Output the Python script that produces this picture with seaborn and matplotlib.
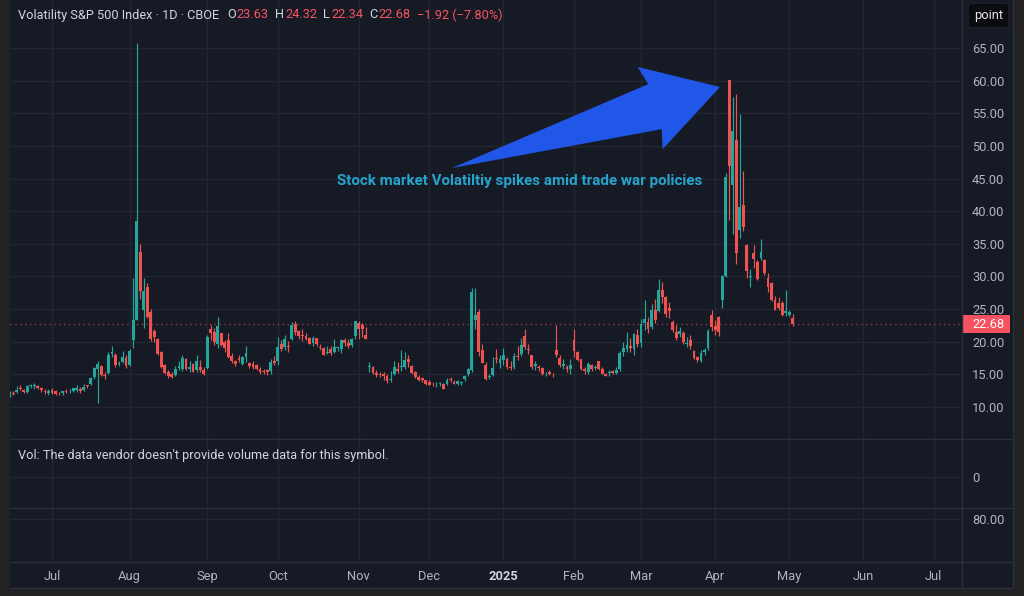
import numpy as np
import pandas as pd
import seaborn as sns
import matplotlib
matplotlib.use('Agg')
import matplotlib.pyplot as plt
from matplotlib.patches import Rectangle, Polygon
from matplotlib.lines import Line2D
from matplotlib.transforms import blended_transform_factory

# ---------------- data (VIX daily, 12 Jun 2024 - 2 May 2025) ----------------
holidays = ['2024-06-19', '2024-07-04', '2024-09-02', '2024-11-28', '2024-12-25',
            '2025-01-01', '2025-01-09', '2025-01-20', '2025-02-17', '2025-04-18',
            '2025-05-26', '2025-06-19', '2025-07-04']

opens = [
    12.0, 12.1, 12.3, 12.9, 12.6, 12.3, 13.2, 13.2, 13.2, 12.9, 12.5, 12.2,  # jun
    12.6, 12.4, 12.1, 12.2, 12.5, 12.4, 12.5, 12.6, 12.7, 12.6, 13.2, 13.5, 14.6, 15.9, 16.3, 14.8,
    15.2, 18.1, 18.0, 16.6, 16.9, 17.5,  # jul
    16.4, 20.3, 23.4, 33.7, 24.9, 28.4, 24.6, 21.6, 20.4, 18.5, 16.4, 15.4, 15.0, 14.9, 16.0, 15.9,
    17.4, 15.9, 16.6, 15.6, 16.2, 15.7,  # aug
    16.0, 21.9, 21.5, 19.6, 21.3, 19.9, 20.2, 17.8, 17.0, 17.5, 16.6, 17.6, 16.7, 16.6, 16.4, 15.9,
    15.5, 15.6, 15.5, 17.0,  # sep
    17.0, 19.6, 19.2, 19.4, 20.4, 22.7, 21.6, 21.0, 20.9, 20.5, 19.8, 20.5, 19.2, 19.0, 18.2, 18.9,
    18.4, 19.0, 18.9, 20.2, 19.8, 19.5, 20.9,  # oct
    22.9, 22.6, 21.0, 16.2, 16.2, 15.2, 15.1, 15.0, 14.7, 14.2, 15.1, 15.9, 16.1, 16.2, 17.3, 16.3,
    15.3, 14.6, 14.4, 14.1,  # nov
    13.8, 13.4, 13.3, 13.5, 13.5, 13.5, 14.2, 13.9, 13.6, 13.7, 14.3, 15.0, 15.6, 23.4, 24.6, 18.8,
    16.5, 14.6, 14.9, 17.5, 16.8,  # dec
    17.2, 17.4, 16.1, 16.2, 17.8, 18.1, 20.9, 18.9, 17.9, 16.3, 16.2, 16.0, 15.0, 15.3, 14.9, 18.8,
    17.5, 16.3, 16.2, 15.9,  # jan
    20.2, 18.4, 17.3, 15.8, 15.4, 16.5, 16.0, 17.0, 15.8, 15.1, 15.2, 15.5, 15.2, 15.8, 18.5, 18.9,
    19.4, 18.9, 21.0,  # feb
    19.8, 22.9, 23.0, 22.2, 24.8, 24.7, 28.0, 26.8, 25.2, 23.0, 21.5, 21.2, 21.4, 19.7, 20.3, 18.6,
    17.6, 17.1, 18.4, 19.0, 24.1,  # mar
    22.4, 23.8, 26.4, 30.0, 60.13, 44.0, 50.9, 37.1, 41.0, 34.8, 29.9, 33.6, 32.2, 32.9, 32.5, 29.8,
    29.0, 26.4, 25.9, 26.0, 24.4,  # apr
    24.1, 23.63,  # may
]
highs = [
    12.4, 12.5, 13.2, 13.3, 12.8, 13.3, 13.6, 13.7, 13.3, 13.0, 12.7, 12.7,
    12.9, 12.6, 12.3, 12.5, 12.8, 12.7, 12.9, 13.4, 13.0, 13.5, 13.4, 14.6, 16.2, 17.1, 16.5, 15.4,
    18.5, 19.4, 18.2, 17.1, 18.6, 17.9,
    18.9, 29.7, 65.73, 34.9, 29.8, 29.0, 25.0, 22.0, 20.6, 18.6, 16.6, 15.6, 15.4, 16.3, 17.0, 17.9,
    17.5, 17.0, 16.8, 17.9, 17.2, 16.2,
    21.0, 22.5, 22.1, 23.8, 21.4, 20.3, 21.4, 18.3, 17.2, 17.9, 17.8, 19.4, 16.9, 17.1, 16.6, 16.1,
    15.8, 15.9, 17.4, 17.8,
    20.7, 20.2, 21.0, 20.1, 23.0, 23.2, 21.8, 21.9, 21.4, 20.7, 20.9, 20.6, 19.6, 19.2, 19.3, 19.4,
    20.4, 19.4, 20.4, 20.5, 20.4, 20.5, 23.2,
    23.2, 22.8, 22.3, 16.9, 16.3, 15.6, 15.4, 15.3, 15.0, 15.5, 17.0, 16.9, 18.8, 18.4, 17.9, 16.4,
    15.5, 14.9, 14.6, 14.2,
    14.1, 13.9, 13.8, 13.8, 13.7, 14.4, 14.6, 14.1, 14.2, 14.0, 14.9, 16.0, 28.3, 28.3, 25.0, 19.6,
    16.9, 15.1, 17.6, 18.9, 17.9,
    19.1, 17.6, 17.0, 18.3, 19.4, 20.5, 22.0, 19.7, 18.0, 17.0, 16.5, 16.2, 15.4, 15.7, 15.2, 22.5,
    18.0, 17.4, 16.5, 17.3,
    22.0, 18.6, 17.4, 16.1, 16.9, 16.6, 16.5, 17.1, 16.1, 15.2, 15.6, 15.7, 16.1, 18.6, 19.9, 21.5,
    20.5, 21.4, 22.0,
    23.5, 26.4, 23.8, 25.8, 26.6, 29.6, 29.1, 27.0, 26.1, 23.3, 22.5, 22.2, 21.6, 20.8, 21.1, 18.7,
    17.8, 18.8, 19.1, 22.0, 24.9,
    23.4, 23.9, 30.3, 45.9, 60.13, 57.52, 57.96, 54.87, 46.1, 35.0, 31.1, 34.8, 32.5, 35.8, 32.7, 30.5,
    29.1, 27.0, 26.9, 26.2, 27.9,
    24.9, 24.32,
]
lows = [
    11.6, 11.9, 12.1, 12.6, 12.2, 12.2, 12.9, 12.8, 12.7, 12.3, 12.0, 11.8,
    12.0, 11.9, 11.9, 11.9, 12.2, 12.2, 12.3, 12.3, 12.2, 12.5, 12.9, 13.3, 14.3, 10.6, 14.7, 14.3,
    15.1, 17.6, 16.2, 16.3, 16.8, 16.0,
    16.3, 19.0, 23.4, 26.5, 22.1, 23.6, 20.1, 19.9, 17.9, 16.0, 15.0, 14.5, 14.5, 14.8, 15.6, 15.5,
    15.6, 15.4, 15.3, 15.3, 15.3, 14.9,
    15.9, 20.3, 19.5, 19.0, 19.3, 18.5, 17.5, 16.8, 16.3, 16.9, 16.4, 16.9, 16.0, 15.9, 15.7, 15.1,
    15.1, 14.9, 15.1, 16.4,
    16.5, 18.6, 18.8, 18.5, 20.2, 21.1, 20.4, 20.1, 20.2, 19.6, 19.4, 19.4, 18.8, 17.9, 18.1, 18.0,
    18.3, 18.6, 18.2, 19.3, 19.1, 19.2, 20.4,
    20.4, 20.7, 20.4, 15.3, 15.0, 14.6, 14.6, 14.2, 13.7, 13.9, 14.9, 15.2, 15.5, 15.9, 16.2, 15.1,
    14.5, 14.0, 13.8, 13.4,
    13.3, 13.2, 13.0, 13.2, 12.7, 13.3, 13.8, 13.5, 13.4, 13.3, 14.0, 14.8, 15.4, 22.0, 17.8, 16.7,
    14.2, 14.3, 14.8, 16.8, 16.0,
    16.4, 15.9, 15.7, 15.9, 17.2, 17.8, 18.9, 18.1, 15.9, 15.6, 15.5, 14.9, 14.8, 14.9, 14.6, 17.6,
    16.2, 15.9, 15.4, 15.1,
    17.6, 17.1, 15.6, 15.0, 15.1, 15.5, 15.7, 15.6, 15.0, 14.7, 14.8, 15.1, 15.0, 15.5, 17.8, 18.4,
    18.5, 18.0, 19.2,
    19.2, 21.8, 21.3, 22.0, 22.8, 24.6, 25.9, 23.8, 23.6, 21.5, 20.3, 20.7, 19.6, 19.2, 18.9, 17.3,
    16.9, 16.9, 17.9, 18.8, 21.7,
    21.1, 20.9, 25.2, 29.9, 38.6, 36.5, 31.9, 35.9, 36.9, 29.8, 28.4, 31.3, 29.5, 32.5, 30.3, 27.6,
    26.3, 24.8, 24.9, 23.9, 24.0,
    23.9, 22.34,
]
closes = [
    12.04, 11.94, 12.66, 12.75, 12.30, 13.28, 13.20, 13.33, 12.84, 12.55, 12.24, 12.44,
    12.22, 12.03, 12.09, 12.48, 12.37, 12.51, 12.85, 12.89, 12.46, 13.12, 13.19, 14.48, 15.93, 16.52,
    14.91, 14.72, 18.04, 18.46, 16.39, 16.60, 17.69, 16.36,
    18.59, 23.39, 38.57, 27.71, 27.85, 23.79, 20.37, 20.71, 18.12, 16.19, 15.23, 14.80, 14.65, 15.88,
    16.27, 17.55, 15.86, 16.15, 15.43, 17.11, 15.65, 15.00,
    20.72, 21.32, 19.90, 22.38, 19.45, 19.08, 17.69, 17.07, 16.56, 17.14, 17.61, 18.23, 16.33, 16.15,
    15.89, 15.39, 15.41, 15.37, 16.96, 16.73,
    19.26, 18.90, 20.49, 19.21, 22.64, 21.42, 20.86, 20.93, 20.46, 19.70, 20.64, 19.58, 19.11, 18.03,
    18.37, 18.20, 19.24, 19.08, 20.33, 19.80, 19.34, 20.35, 23.16,
    21.88, 21.98, 20.49, 16.27, 15.20, 14.94, 14.97, 14.71, 14.02, 14.31, 16.14, 15.58, 16.35, 17.16,
    16.87, 15.24, 14.60, 14.10, 14.10, 13.51,
    13.34, 13.30, 13.45, 13.54, 12.77, 14.19, 14.18, 13.58, 13.92, 13.81, 14.69, 15.87, 27.62, 24.09,
    18.36, 16.78, 14.27, 14.73, 15.95, 17.40, 17.35,
    17.93, 16.13, 16.04, 17.82, 17.70, 19.54, 19.19, 18.71, 16.12, 16.60, 15.97, 15.06, 15.10, 15.02,
    14.85, 17.90, 16.41, 16.56, 15.84, 16.43,
    18.62, 17.21, 15.77, 15.50, 16.54, 15.81, 16.02, 15.89, 15.10, 14.77, 15.35, 15.27, 15.66, 18.21,
    18.98, 19.43, 19.10, 21.13, 19.63,
    22.78, 23.51, 21.93, 24.87, 23.37, 27.86, 26.92, 24.23, 24.66, 21.77, 20.51, 21.70, 19.90, 19.80,
    19.28, 17.48, 17.15, 18.33, 18.69, 21.65, 22.28,
    21.77, 21.51, 30.02, 45.31, 46.98, 52.33, 33.62, 40.72, 37.56, 30.89, 30.12, 32.64, 29.65, 33.82,
    30.57, 28.45, 26.47, 24.84, 25.15, 24.17, 24.70,
    24.60, 22.68,
]

price_ticks = [10, 15, 20, 25, 30, 35, 40, 45, 50, 55, 60, 65]
month_labels = ['Jul', 'Aug', 'Sep', 'Oct', 'Nov', 'Dec', '2025', 'Feb', 'Mar', 'Apr', 'May', 'Jun', 'Jul']
title = 'Volatility S&P 500 Index · 1D · CBOE'
ohlc_names = ['O', 'H', 'L', 'C']
ohlc_values = ['23.63', '24.32', '22.34', '22.68']
change_text = '\u22121.92 (\u22127.80%)'
last_close = 22.68
note = 'Stock market Volatiltiy spikes amid trade war policies'
vol_text = "Vol: The data vendor doesn't provide volume data for this symbol."

# ---------------- frame ----------------
days = pd.bdate_range('2024-06-12', '2025-07-31', freq='C', holidays=holidays)
df = pd.DataFrame({'date': days[:len(closes)], 'open': opens, 'high': highs,
                   'low': lows, 'close': closes})
df['i'] = np.arange(len(df))
df['up'] = df['close'] >= df['open']

cal = pd.Series(np.arange(len(days)), index=days)
month_pos = cal.groupby(days.to_period('M')).first()
month_pos = month_pos[month_pos.index >= pd.Period('2024-07', 'M')].values

BG = '#161a25'
FRAME = '#222222'
GRID = '#222633'
SEP = '#2b2f3a'
TXT = '#b2b5be'
HEAD = '#d1d4dc'
UP = '#26a69a'
DOWN = '#ef5350'
RED = '#f7525f'

sns.set_theme(style='dark', rc={'axes.facecolor': BG, 'figure.facecolor': FRAME,
                                'text.color': TXT, 'xtick.color': TXT, 'ytick.color': TXT})
plt.rcParams['font.family'] = ['Roboto', 'DejaVu Sans']

W, H = 1024, 596
fig = plt.figure(figsize=(W / 100, H / 100), dpi=100)
fig.add_artist(Rectangle((10 / W, 1 - 588 / H), 1003 / W, 588 / H, transform=fig.transFigure,
                         facecolor=BG, edgecolor='none', zorder=-10))


def pane(top, bottom):
    a = fig.add_axes([10 / W, 1 - bottom / H, 952 / W, (bottom - top) / H])
    a.set_facecolor(BG)
    a.grid(False)
    for s in a.spines.values():
        s.set_visible(False)
    a.set_xlim(0.1, 270.0)
    for m in month_pos:
        a.axvline(m, color=GRID, lw=1, zorder=0)
    a.yaxis.tick_right()
    a.tick_params(axis='y', length=0, pad=7.3, labelsize=9.3, labelcolor=TXT)
    a.tick_params(axis='x', length=0, bottom=False, labelbottom=False)
    return a


ax = pane(0, 439)
axv = pane(439, 508)
axi = pane(508, 562)

# candles
colors = np.where(df['up'], UP, DOWN)
body_lo = np.minimum(df['open'], df['close'])
body_h = np.maximum((df['close'] - df['open']).abs(), 0.12)
ax.vlines(df['i'], df['low'], df['high'], colors=colors, lw=0.85, zorder=3)
ax.bar(df['i'], body_h, bottom=body_lo, width=0.8, color=colors, linewidth=0, zorder=4)

for v in price_ticks:
    ax.axhline(v, color=GRID, lw=1, zorder=0)
ax.set_ylim(5.10, 72.36)
ax.set_yticks(price_ticks, labels=[f'{v:.2f}' for v in price_ticks])
ax.axhline(last_close, color=RED, lw=1, ls=(0, (1, 2.5)), alpha=0.6, zorder=2)

# last price tag
ppu = 439 / (72.36 - 5.10)
tag_tr = blended_transform_factory(fig.transFigure, ax.transData)
ax.add_patch(Rectangle((963 / W, last_close - 9 / ppu), 47 / W, 18 / ppu, transform=tag_tr,
                       facecolor=RED, edgecolor='none', clip_on=False, zorder=10))
ax.text(972 / W, last_close, f'{last_close:.2f}', transform=tag_tr, color='white',
        fontsize=9.3, va='center', ha='left', zorder=11, clip_on=False)

axv.axhline(0, color=GRID, lw=1, zorder=0)
axv.set_ylim(-31, 38)
axv.set_yticks([0], labels=['0'])

axi.axhline(80, color=GRID, lw=1, zorder=0)
axi.set_ylim(37, 91)
axi.set_yticks([80], labels=['80.00'])
axi.set_xticks(month_pos, labels=month_labels)
axi.tick_params(axis='x', labelbottom=True, pad=5.5, labelsize=9.3, labelcolor=TXT)
for lbl in axi.get_xticklabels():
    if lbl.get_text() == '2025':
        lbl.set_fontweight('bold')
        lbl.set_color(HEAD)

# separators
for y in (439, 508, 562, 588):
    fig.add_artist(Line2D([10 / W, 1013 / W], [1 - y / H, 1 - y / H], color=SEP, lw=1,
                          transform=fig.transFigure))
for x in (962, 1013):
    fig.add_artist(Line2D([x / W, x / W], [1 - 588 / H, 1.0], color=SEP, lw=1,
                          transform=fig.transFigure))

# header legend
renderer = fig.canvas.get_renderer()


def fitted(x, y, s, width, **kw):
    t = fig.text(x / W, 1 - y / H, s, va='center', ha='left', **kw)
    w = t.get_window_extent(renderer).width
    t.set_fontsize(t.get_fontsize() * width / w)
    return t


head = fitted(18, 15, title, 203, color=HEAD, fontsize=9)
fs = head.get_fontsize()
x = head.get_window_extent(renderer).x1 + 8
parts = []
for n, v in zip(ohlc_names, ohlc_values):
    parts += [(n, HEAD, 0.8), (v, RED, 6.5)]
parts.append((change_text, RED, 0))
for s, c, gap in parts:
    t = fig.text(x / W, 1 - 15 / H, s, color=c, fontsize=fs, va='center', ha='left')
    x = t.get_window_extent(renderer).x1 + gap

fig.text(988.5 / W, 1 - 15.5 / H, 'point', ha='center', va='center', color='#e6e6e6',
         fontsize=9.3, bbox=dict(boxstyle='round,pad=0.45,rounding_size=0.35',
                                 fc='#0b0c10', ec='#25272d', lw=0.6))

fitted(18, 456, vol_text, 372, color=HEAD, fontsize=9)

# annotation arrow + note
tail = np.array([452.0, 168.0])
tip = np.array([720.0, 87.0])
u = (tip - tail) / np.linalg.norm(tip - tail)
n = np.array([u[1], -u[0]])
length = np.linalg.norm(tip - tail)
shape = [(0, 0), (212, 23.5), (207, 43), (length, 0), (207, -43), (212, -23.5)]
pts = [tail + a * u + b * n for a, b in shape]
fig.add_artist(Polygon([(p[0] / W, 1 - p[1] / H) for p in pts], closed=True,
                       transform=fig.transFigure, facecolor='#2157e8', edgecolor='none', zorder=20))

t = fig.text(520 / W, 1 - 181 / H, note, ha='center', va='center', color='#27a4cc',
             fontsize=10, fontweight='bold', zorder=21)
w = t.get_window_extent(renderer).width
t.set_fontsize(10 * 367 / w)

fig.savefig('out.png', dpi=100, facecolor=FRAME)
